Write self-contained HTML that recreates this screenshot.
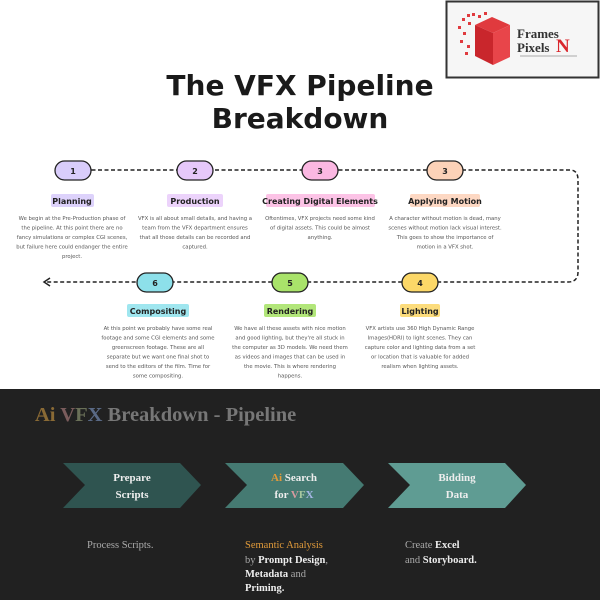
<!DOCTYPE html>
<html><head><meta charset="utf-8"><style>
html,body{margin:0;padding:0;width:600px;height:600px;overflow:hidden;background:#fff}
svg{display:block}
.d{font-family:"DejaVu Sans","Liberation Sans",sans-serif;font-size:5.3px;fill:#555;text-anchor:middle}
.l{font-family:"DejaVu Sans","Liberation Sans",sans-serif;font-size:8px;font-weight:bold;fill:#222;text-anchor:middle}
.n{font-family:"DejaVu Sans","Liberation Sans",sans-serif;font-size:8px;font-weight:bold;fill:#222;text-anchor:middle}
.s{font-family:"Liberation Serif",serif}
</style></head><body>
<svg width="600" height="600" viewBox="0 0 600 600" xmlns="http://www.w3.org/2000/svg">
<rect x="0" y="0" width="600" height="389" fill="#fff"/>
<rect x="446.5" y="1.5" width="152" height="76" fill="#f6f6f6" stroke="#333" stroke-width="2"/>
<g fill="#e03a3e">
<polygon points="475,25 492,17 510,25 493,33"/>
<polygon points="475,25 493,33 493,65 475,56" fill="#c9262c"/>
<polygon points="493,33 510,25 510,57 493,65" fill="#e8454a"/>
<rect x="462" y="18" width="3" height="3"/><rect x="467" y="14" width="3" height="3"/><rect x="458" y="26" width="3" height="3"/><rect x="463" y="32" width="3" height="3"/><rect x="468" y="22" width="3" height="3"/><rect x="460" y="40" width="3" height="3"/><rect x="467" y="45" width="3" height="3"/><rect x="472" y="13" width="3" height="3"/><rect x="478" y="15" width="3" height="3"/><rect x="484" y="12" width="3" height="3"/><rect x="465" y="52" width="3" height="3"/>
</g>
<text x="517" y="38" class="s" font-size="13" font-weight="bold" fill="#333">Frames</text>
<text x="517" y="52" class="s" font-size="13" font-weight="bold" fill="#333">Pixels</text>
<text x="556" y="52" class="s" font-size="19" font-weight="bold" fill="#d9262c">N</text>
<line x1="520" y1="56" x2="577" y2="56" stroke="#aaa" stroke-width="1"/>
<text x="300" y="95" font-family="DejaVu Sans,Liberation Sans,sans-serif" font-size="28" font-weight="bold" fill="#1a1a1a" text-anchor="middle">The VFX Pipeline</text>
<text x="300" y="128" font-family="DejaVu Sans,Liberation Sans,sans-serif" font-size="28" font-weight="bold" fill="#1a1a1a" text-anchor="middle">Breakdown</text>
<path d="M72,170 H570 Q578,170 578,180 V272 Q578,282 568,282 H46" fill="none" stroke="#222" stroke-width="1.5" stroke-dasharray="4,2.5"/>
<path d="M50,278 L44,282 L50,286" fill="none" stroke="#222" stroke-width="1.5"/>
<g stroke="#222" stroke-width="1.3">
<rect x="55" y="161" width="36" height="19" rx="9.5" fill="#d9cdfb"/>
<rect x="177" y="161" width="36" height="19" rx="9.5" fill="#e6c8fa"/>
<rect x="302" y="161" width="36" height="19" rx="9.5" fill="#fbb8e2"/>
<rect x="427" y="161" width="36" height="19" rx="9.5" fill="#fcd2b8"/>
<rect x="137" y="273" width="36" height="19" rx="9.5" fill="#8de0ea"/>
<rect x="272" y="273" width="36" height="19" rx="9.5" fill="#a9e36a"/>
<rect x="402" y="273" width="36" height="19" rx="9.5" fill="#fcd868"/>
</g>
<text x="73" y="174" class="n">1</text><text x="195" y="174" class="n">2</text><text x="320" y="174" class="n">3</text><text x="445" y="174" class="n">3</text>
<text x="155" y="286" class="n">6</text><text x="290" y="286" class="n">5</text><text x="420" y="286" class="n">4</text>
<rect x="51" y="194" width="43" height="13" rx="2" fill="#ddd2fb"/><text x="72" y="204" class="l">Planning</text>
<rect x="167" y="194" width="56" height="13" rx="2" fill="#ecd3fb"/><text x="195" y="204" class="l">Production</text>
<rect x="266" y="194" width="109" height="13" rx="2" fill="#fcc3e6"/><text x="320" y="204" class="l">Creating Digital Elements</text>
<rect x="410" y="194" width="70" height="13" rx="2" fill="#fdd8c3"/><text x="445" y="204" class="l">Applying Motion</text>
<rect x="127" y="304" width="62" height="13" rx="2" fill="#9fe6ef"/><text x="158" y="314" class="l">Compositing</text>
<rect x="264" y="304" width="52" height="13" rx="2" fill="#b2e67a"/><text x="290" y="314" class="l">Rendering</text>
<rect x="400" y="304" width="40" height="13" rx="2" fill="#fcdc7c"/><text x="420" y="314" class="l">Lighting</text>
<g class="d">
<text x="72" y="220" class="d">We begin at the Pre-Production phase of</text>
<text x="72" y="229.5" class="d">the pipeline. At this point there are no</text>
<text x="72" y="239" class="d">fancy simulations or complex CGI scenes,</text>
<text x="72" y="248.5" class="d">but failure here could endanger the entire</text>
<text x="72" y="258" class="d">project.</text>
<text x="195" y="220" class="d">VFX is all about small details, and having a</text>
<text x="195" y="229.5" class="d">team from the VFX department ensures</text>
<text x="195" y="239" class="d">that all those details can be recorded and</text>
<text x="195" y="248.5" class="d">captured.</text>
<text x="320" y="220" class="d">Oftentimes, VFX projects need some kind</text>
<text x="320" y="229.5" class="d">of digital assets. This could be almost</text>
<text x="320" y="239" class="d">anything.</text>
<text x="445" y="220" class="d">A character without motion is dead, many</text>
<text x="445" y="229.5" class="d">scenes without motion lack visual interest.</text>
<text x="445" y="239" class="d">This goes to show the importance of</text>
<text x="445" y="248.5" class="d">motion in a VFX shot.</text>
<text x="158" y="330" class="d">At this point we probably have some real</text>
<text x="158" y="339.5" class="d">footage and some CGI elements and some</text>
<text x="158" y="349" class="d">greenscreen footage. These are all</text>
<text x="158" y="358.5" class="d">separate but we want one final shot to</text>
<text x="158" y="368" class="d">send to the editors of the film. Time for</text>
<text x="158" y="377.5" class="d">some compositing.</text>
<text x="290" y="330" class="d">We have all these assets with nice motion</text>
<text x="290" y="339.5" class="d">and good lighting, but they're all stuck in</text>
<text x="290" y="349" class="d">the computer as 3D models. We need them</text>
<text x="290" y="358.5" class="d">as videos and images that can be used in</text>
<text x="290" y="368" class="d">the movie. This is where rendering</text>
<text x="290" y="377.5" class="d">happens.</text>
<text x="420" y="330" class="d">VFX artists use 360 High Dynamic Range</text>
<text x="420" y="339.5" class="d">Images(HDRI) to light scenes. They can</text>
<text x="420" y="349" class="d">capture color and lighting data from a set</text>
<text x="420" y="358.5" class="d">or location that is valuable for added</text>
<text x="420" y="368" class="d">realism when lighting assets.</text>
</g>
<rect x="0" y="389" width="600" height="211" fill="#212121"/>
<text x="35" y="421" class="s" font-size="20.5" font-weight="bold"><tspan fill="#8a6a35">Ai </tspan><tspan fill="#7a5c5c">V</tspan><tspan fill="#6a7058">F</tspan><tspan fill="#5a6a86">X</tspan><tspan fill="#777"> Breakdown - Pipeline</tspan></text>
<polygon points="63,463 180,463 201,485 180,508 63,508 85,485" fill="#2f5450"/>
<polygon points="225,463 343,463 364,485 343,508 225,508 247,485" fill="#457a72"/>
<polygon points="388,463 505,463 526,485 505,508 388,508 410,485" fill="#5f9c93"/>
<g class="s" font-size="11" font-weight="bold" text-anchor="middle" fill="#eee">
<text x="132" y="481">Prepare</text><text x="132" y="498">Scripts</text>
<text x="294" y="481"><tspan fill="#e09a3a">Ai</tspan> Search</text><text x="294" y="498">for <tspan fill="#d89aa0">V</tspan><tspan fill="#a8c8a0">F</tspan><tspan fill="#a8b8e8">X</tspan></text>
<text x="457" y="481">Bidding</text><text x="457" y="498">Data</text>
</g>
<g class="s" font-size="10.5" fill="#aaa">
<text x="87" y="548">Process Scripts.</text>
<text x="245" y="548" fill="#e09a3a">Semantic Analysis</text>
<text x="245" y="563">by <tspan fill="#eee" font-weight="bold">Prompt Design</tspan>,</text>
<text x="245" y="577"><tspan fill="#eee" font-weight="bold">Metadata</tspan> and</text>
<text x="245" y="591" fill="#eee" font-weight="bold">Priming.</text>
<text x="405" y="548">Create <tspan fill="#eee" font-weight="bold">Excel</tspan></text>
<text x="405" y="563">and <tspan fill="#eee" font-weight="bold">Storyboard.</tspan></text>
</g>
</svg>
</body></html>
